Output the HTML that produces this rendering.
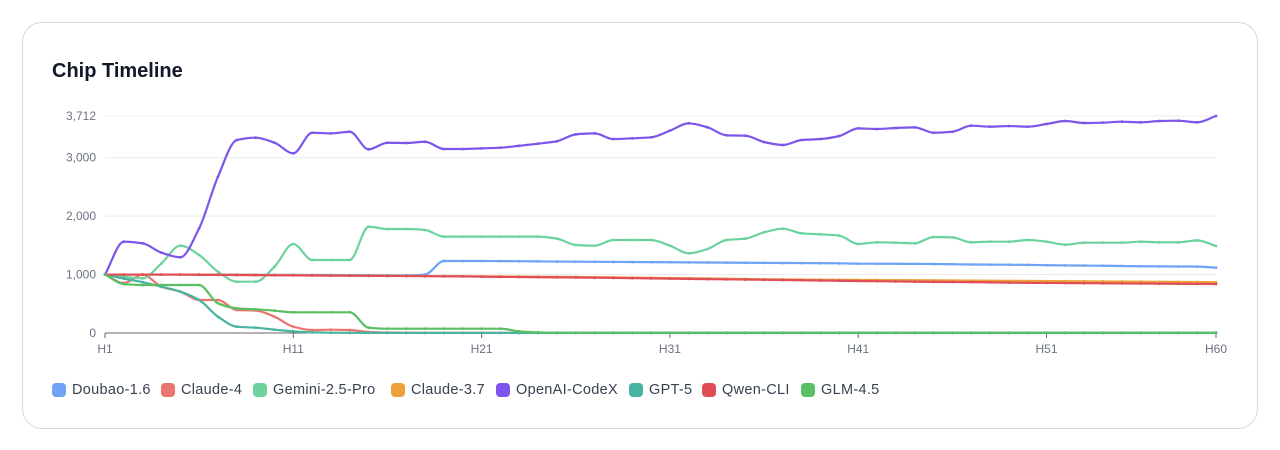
<!DOCTYPE html>
<html><head><meta charset="utf-8"><style>
html,body{margin:0;padding:0;background:#fff;width:1280px;height:450px;overflow:hidden;font-family:"Liberation Sans",sans-serif}
.card{position:absolute;left:22px;top:22px;width:1236px;height:407px;border:1px solid #d9d9dc;border-radius:20px;box-sizing:border-box}
.title{position:absolute;left:52px;top:60px;font-size:20px;font-weight:bold;color:#111827}
svg{position:absolute;left:0;top:0}
.legend{position:absolute;left:0;top:382px;width:1280px;height:20px;font-size:14.5px;color:#374151;letter-spacing:0.3px}
.li{position:absolute;top:0;display:flex;align-items:center;white-space:nowrap}
.sw{width:14px;height:14px;border-radius:4px;margin-right:6px}
</style></head><body>
<div class="card"></div>
<div class="title">Chip Timeline</div>
<svg id="chart" width="1280" height="450"></svg>
<div class="legend" id="legend"></div>
<script>
const seriesNames=["Doubao-1.6","Claude-4","Gemini-2.5-Pro","Claude-3.7","OpenAI-CodeX","GPT-5","Qwen-CLI","GLM-4.5"];
const seriesColors=["#6ea3f5","#ea766f","#6dd39e","#eda13b","#7d55ea","#48b3a0","#e14d57","#5abf63"];
const legendX=[52,161,253,391,496,629,702,801];
const yTicks=[0,1000,2000,3000,3712];
const doubao=[1000,1000,1000,1000,1000,1000,1000,998,996,995,994,993,992,990,988,986,985,1000,1232,1232,1232,1230,1228,1225,1222,1220,1218,1216,1214,1212,1210,1208,1206,1204,1202,1200,1198,1196,1194,1192,1186,1185,1184,1182,1180,1176,1172,1170,1168,1165,1160,1156,1154,1150,1146,1142,1140,1138,1136,1118];
const claude4=[1000,855,1000,792,707,565,565,393,385,279,108,51,57,51,17,8,5,3,2,2,2,2,2,2,2,2,2,2,2,2,2,2,2,2,2,2,2,2,2,2,2,2,2,2,2,2,2,2,2,2,2,2,2,2,2,2,2,2,2,2];
const gemini=[1000,963,935,1192,1494,1334,1049,878,878,1134,1523,1249,1249,1249,1818,1779,1779,1762,1648,1648,1648,1648,1648,1648,1614,1505,1494,1591,1591,1591,1494,1363,1437,1591,1614,1722,1784,1705,1688,1665,1523,1551,1545,1534,1642,1636,1551,1562,1562,1591,1562,1511,1545,1545,1545,1562,1551,1551,1585,1488];
const claude37=[1000,1000,1000,1000,1000,998,996,994,992,990,988,986,984,982,980,978,976,974,972,970,968,966,964,962,960,958,955,952,948,944,940,936,932,928,924,920,916,914,912,910,908,906,904,902,900,898,896,894,892,890,888,886,884,882,880,878,876,874,872,867];
const codex=[1000,1562,1534,1374,1295,1791,2674,3301,3341,3255,3074,3426,3415,3443,3142,3255,3250,3272,3147,3147,3158,3170,3203,3238,3280,3398,3415,3318,3330,3347,3461,3587,3518,3382,3375,3267,3216,3301,3318,3370,3500,3490,3507,3518,3426,3443,3546,3530,3540,3530,3575,3626,3592,3598,3615,3604,3626,3632,3604,3712];
const gpt5=[1000,930,870,792,707,565,279,108,91,57,28,11,5,3,2,1,1,1,1,1,1,1,1,1,1,1,1,1,1,1,1,1,1,1,1,1,1,1,1,1,1,1,1,1,1,1,1,1,1,1,1,1,1,1,1,1,1,1,1,1];
const qwen=[1000,1000,1000,1000,1000,996,994,992,990,988,986,984,982,980,978,976,974,972,970,968,964,960,958,955,952,950,946,942,938,934,930,926,922,918,914,910,906,902,898,894,890,886,882,878,874,872,870,866,862,858,856,854,852,850,848,846,844,842,840,838];
const glm=[1000,838,821,821,821,821,508,422,405,382,354,354,354,354,91,74,74,74,74,74,74,74,28,10,5,5,5,5,5,5,5,5,5,5,5,5,5,5,5,5,5,5,5,5,5,5,5,5,5,5,5,5,5,5,5,5,5,5,5,5];
const allSeries=[doubao,claude4,gemini,claude37,codex,gpt5,qwen,glm];
const N=60;
const X0=105,X1=1216,Y0=333,Ytop=116,YMAX=3712;
const xs=i=>X0+(X1-X0)*i/(N-1);
const ys=v=>Y0-(Y0-Ytop)*v/YMAX;
const NS="http://www.w3.org/2000/svg";
const svg=document.getElementById('chart');
function mk(t,a){const e=document.createElementNS(NS,t);for(const k in a)e.setAttribute(k,a[k]);svg.appendChild(e);return e;}
yTicks.forEach(t=>{
 if(t>0){const g=mk('line',{x1:X0,x2:X1,y1:ys(t),y2:ys(t),stroke:'#ececee','stroke-width':1});
 
 }
 const l=mk('text',{x:96,y:ys(t)+4,'text-anchor':'end','font-size':12,fill:'#6b7280'});
 l.textContent=t.toLocaleString('en-US');
 
 
});
const ax=mk('line',{x1:X0,x2:X1,y1:Y0,y2:Y0,stroke:'#666',"stroke-width":1});


const xTickIdx=[0,10,20,30,40,50,59];
xTickIdx.forEach(i=>{
 mk('line',{x1:xs(i),x2:xs(i),y1:Y0,y2:Y0+5,stroke:'#666'});
 const l=mk('text',{x:xs(i),y:Y0+20,'text-anchor':'middle','font-size':12,fill:'#6b7280'});
 l.textContent='H'+(i+1);
 
 
});
function monotone(px,py){
 const n=px.length,d=[],m=[];
 for(let i=0;i<n-1;i++)d.push((py[i+1]-py[i])/(px[i+1]-px[i]));
 m[0]=d[0];m[n-1]=d[n-2];
 for(let i=1;i<n-1;i++){m[i]=(d[i-1]*d[i]<=0)?0:3*(px[i+1]-px[i-1])/((2*px[i+1]-px[i]-px[i-1])/d[i-1]+(px[i+1]+px[i]-2*px[i-1])/d[i]);}
 let s='M'+px[0]+','+py[0];
 for(let i=0;i<n-1;i++){const h=(px[i+1]-px[i])/3;
  s+=' C'+(px[i]+h)+','+(py[i]+m[i]*h)+' '+(px[i+1]-h)+','+(py[i+1]-m[i+1]*h)+' '+px[i+1]+','+py[i+1];}
 return s;
}
allSeries.forEach((arr,si)=>{
 const px=arr.map((v,i)=>xs(i)),py=arr.map(v=>ys(v));
 const p=mk('path',{d:monotone(px,py),fill:'none',stroke:seriesColors[si],'stroke-width':2.2});
 
 
 arr.forEach((v,i)=>{const c=mk('circle',{cx:xs(i),cy:ys(v),r:1.4,fill:seriesColors[si]});
  
  });
});
const lg=document.getElementById('legend');
seriesNames.forEach((n,i)=>{
 const d=document.createElement('div');d.className='li';
 d.style.left=legendX[i]+'px';
 
 
 d.innerHTML='<span class="sw" style="background:'+seriesColors[i]+'"></span>'+n;
 lg.appendChild(d);
});
</script>
</body></html>
